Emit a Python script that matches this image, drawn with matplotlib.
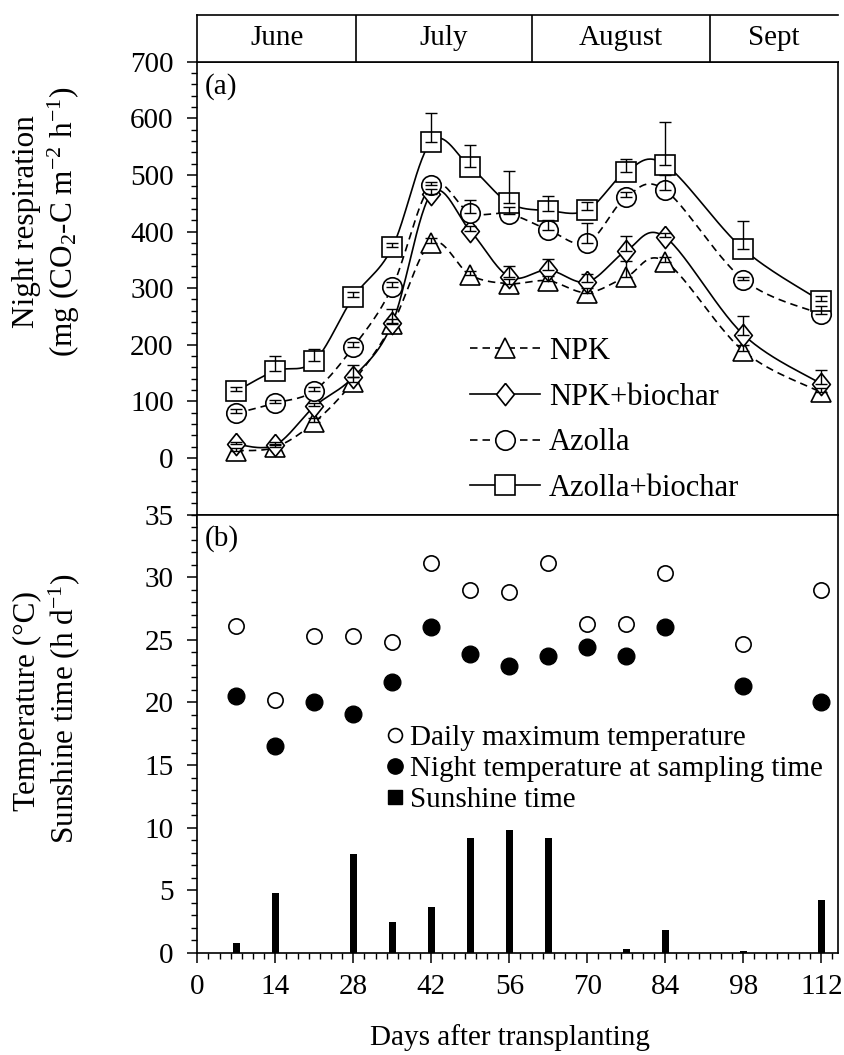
import numpy as np
import matplotlib
matplotlib.use("Agg")
import matplotlib.pyplot as plt
from matplotlib.lines import Line2D
from matplotlib.ticker import MultipleLocator

plt.rcParams["font.family"] = ["Liberation Serif", "DejaVu Serif"]
plt.rcParams["mathtext.fontset"] = "custom"
plt.rcParams["mathtext.rm"] = "Liberation Serif"
plt.rcParams["mathtext.it"] = "Liberation Serif:italic"

# ---------- data ----------
days = [7, 14, 21, 28, 35, 42, 49, 56, 63, 70, 77, 84, 98, 112]

npk = [13, 19, 63, 135, 236, 380, 323, 308, 313, 292, 320, 347, 189, 116]
npk_err = [5, 5, 8, 8, 10, 8, 8, 8, 8, 8, 28, 8, 10, 8]
npk_bc = [24, 23, 91, 143, 238, 467, 401, 320, 332, 311, 366, 390, 218, 131]
npk_bc_err = [5, 5, 6, 22, 25, 8, 8, 20, 20, 14, 27, 8, 32, 24]
azolla = [79, 97, 119, 196, 302, 482, 433, 431, 403, 380, 461, 473, 315, 254]
azolla_err = [8, 5, 6, 8, 8, 6, 23, 13, 17, 35, 9, 27, 5, 14]
azolla_bc = [118, 154, 171, 284, 372, 559, 514, 450, 437, 438, 506, 518, 369, 277]
azolla_bc_err = [8, 26, 21, 10, 8, 50, 38, 57, 26, 15, 23, 75, 49, 10]

t_max = [26.1, 20.2, 25.3, 25.3, 24.8, 31.1, 29.0, 28.8, 31.1, 26.3, 26.3, 30.3, 24.7, 29.0]
t_night = [20.5, 16.5, 20.0, 19.1, 21.6, 26.0, 23.9, 22.9, 23.7, 24.4, 23.7, 26.0, 21.3, 20.0]

sun_days = [7, 14, 28, 35, 42, 49, 56, 63, 77, 84, 98, 112]
sunshine = [0.8, 4.8, 7.9, 2.5, 3.7, 9.2, 9.8, 9.2, 0.35, 1.8, 0.15, 4.2]

months = ["June", "July", "August", "Sept"]
month_edges = [0, 28.5, 60, 92, 115]

XMAX = 115

# narrow diamond: a bit taller than wide
DIAMOND = [(0, 1), (0.8, 0), (0, -1), (-0.8, 0), (0, 1)]


def smooth_curve(x, y, n=30):
    """Catmull-Rom style bezier through every point (like a spreadsheet 'smoothed line')."""
    p = np.column_stack([x, y]).astype(float)
    p = np.vstack([p[0], p, p[-1]])
    out = []
    t = np.linspace(0, 1, n)[:, None]
    for i in range(1, len(p) - 2):
        p0, p1, p2, p3 = p[i - 1], p[i], p[i + 1], p[i + 2]
        c1 = p1 + (p2 - p0) / 6
        c2 = p2 - (p3 - p1) / 6
        seg = ((1 - t) ** 3) * p1 + 3 * ((1 - t) ** 2) * t * c1 + 3 * (1 - t) * t ** 2 * c2 + t ** 3 * p2
        out.append(seg if i == 1 else seg[1:])
    out = np.vstack(out)
    return out[:, 0], out[:, 1]


FS = 21
fig = plt.figure(figsize=(8.44, 10.55), dpi=100)

W, H = 844, 1055
left, right = 197.3 / W, 838 / W
ax_a = fig.add_axes([left, 1 - 514.6 / H, right - left, (514.6 - 61.7) / H])
ax_b = fig.add_axes([left, 1 - 953 / H, right - left, (953 - 514.6) / H])
ax_m = fig.add_axes([left, 1 - 61.7 / H, right - left, (61.7 - 15) / H])

dashed = (0, (4.5, 3))
series = [
    ("NPK", npk, npk_err, "^", 14, dashed),
    ("NPK+biochar", npk_bc, npk_bc_err, DIAMOND, 16, "-"),
    ("Azolla", azolla, azolla_err, "o", 14, dashed),
    ("Azolla+biochar", azolla_bc, azolla_bc_err, "s", 14, "-"),
]

# ---------- (a) night respiration ----------
handles = []
for name, vals, err, mk, ms, ls in series:
    sx, sy = smooth_curve(days, vals)
    ax_a.plot(sx, sy, color="black", lw=1.2, ls=ls, zorder=2)
for name, vals, err, mk, ms, ls in series:
    ax_a.plot(days, vals, ls="none", marker=mk, ms=ms, mfc="white",
              mec="black", mew=1.2, zorder=3)
    ax_a.errorbar(days, vals, yerr=[np.zeros(len(err)), err], fmt="none",
                  ecolor="black", elinewidth=1.0, capsize=4, capthick=1.0, zorder=4)
    handles.append(Line2D([], [], color="black", lw=1.2, ls=ls, marker=mk,
                          ms=ms, mfc="white", mec="black", mew=1.2, label=name))

ax_a.set_ylim(-100, 700)
ax_a.set_yticks(np.arange(0, 701, 100))
ax_a.yaxis.set_minor_locator(MultipleLocator(20))
ax_a.text(0.012, 0.975, "(a)", transform=ax_a.transAxes, fontsize=FS, va="top", ha="left")
ax_a.legend(handles=handles, loc="center left", bbox_to_anchor=(0.425, 0.209),
            frameon=False, fontsize=FS + 1, handlelength=2.3, handletextpad=0.3,
            labelspacing=0.55, borderpad=0, borderaxespad=0)

# ---------- (b) weather ----------
ax_b.bar(sun_days, sunshine, width=1.2, color="black", zorder=2)
ax_b.plot(days, t_max, ls="none", marker="o", ms=11, mfc="white", mec="black", mew=1.2, zorder=3)
ax_b.plot(days, t_night, ls="none", marker="o", ms=12, mfc="black", mec="black", zorder=3)
ax_b.set_ylim(0, 35)
ax_b.set_yticks(np.arange(0, 36, 5))
ax_b.yaxis.set_minor_locator(MultipleLocator(1))
ax_b.text(0.012, 0.975, "(b)", transform=ax_b.transAxes, fontsize=FS, va="top", ha="left")
leg_b = [
    Line2D([], [], ls="none", marker="o", ms=10, mfc="white", mec="black", mew=1.2,
           label="Daily maximum temperature"),
    Line2D([], [], ls="none", marker="o", ms=11, mfc="black", mec="black",
           label="Night temperature at sampling time"),
    Line2D([], [], ls="none", marker="s", ms=10, mfc="black", mec="black",
           label="Sunshine time"),
]
ax_b.legend(handles=leg_b, loc="center left", bbox_to_anchor=(0.293, 0.42),
            frameon=False, fontsize=FS, handlelength=0.7, handletextpad=0.15,
            labelspacing=0.15, borderpad=0, borderaxespad=0)

for ax in (ax_a, ax_b):
    ax.set_xlim(0, XMAX)
    ax.xaxis.set_major_locator(MultipleLocator(14))
    ax.xaxis.set_minor_locator(MultipleLocator(2))
    ax.tick_params(which="major", direction="out", length=7, width=1.1, labelsize=FS, pad=10)
    ax.tick_params(which="minor", direction="out", length=4.5, width=1.0)
    for sp in ax.spines.values():
        sp.set_linewidth(1.2)
ax_a.tick_params(axis="x", which="both", labelbottom=False)
ax_b.tick_params(axis="x", which="major", pad=8)

# ---------- month strip ----------
ax_m.set_xlim(0, XMAX)
ax_m.set_ylim(0, 1)
ax_m.set_xticks([])
ax_m.set_yticks([])
ax_m.spines["right"].set_visible(False)
for sp in ax_m.spines.values():
    sp.set_linewidth(1.2)
for i, name in enumerate(months):
    lo, hi = month_edges[i], month_edges[i + 1]
    if 0 < lo:
        ax_m.axvline(lo, color="black", lw=1.2)
    ax_m.text((lo + hi) / 2, 0.5, name, ha="center", va="center", fontsize=FS)

# ---------- axis titles ----------
LFS = 22.5
fig.text(27 / W, 1 - 222 / H, "Night respiration", rotation=90, ha="center", va="center", fontsize=LFS)
fig.text(64 / W, 1 - 222 / H, r"(mg (CO$_2$-C m$^{-2}$ h$^{-1}$)", rotation=90,
         ha="center", va="center", fontsize=LFS)
fig.text(27 / W, 1 - 701 / H, "Temperature (°C)", rotation=90, ha="center", va="center", fontsize=LFS)
fig.text(64 / W, 1 - 709 / H, r"Sunshine time (h d$^{-1}$)", rotation=90,
         ha="center", va="center", fontsize=LFS)
fig.text(510 / W, 1 - 1038 / H, "Days after transplanting", ha="center", va="center", fontsize=FS)

fig.savefig("out.png", dpi=100)
